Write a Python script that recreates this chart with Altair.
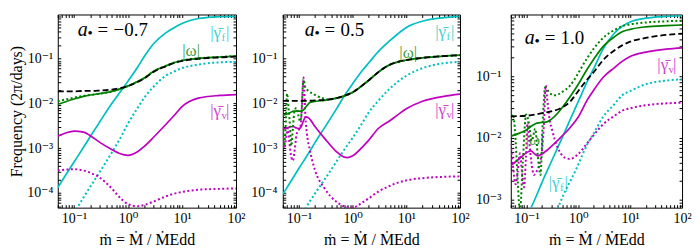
import math
import altair as alt
import pandas as pd

# ---------------- data: x = accretion rate, y = log10(frequency / (2pi/days)) ----------------
X_STD = [0.05, 0.07, 0.1, 0.15, 0.2, 0.3, 0.5, 0.7, 1, 1.5, 2, 3, 5, 7, 10, 20, 50, 100]

# panel 1  (a = -0.7)
P1_GF_SOLID = [-3.88, -3.60, -3.31, -2.98, -2.74, -2.41, -2.00, -1.76, -1.50, -1.19, -0.95, -0.66, -0.42, -0.31, -0.21, -0.10, -0.06, -0.05]
P1_GF_DOT_X = [0.11, 0.15, 0.2, 0.3, 0.5, 0.7, 1, 1.5, 2, 3, 5, 7, 10, 20, 50, 100]
P1_GF_DOT = [-4.37, -4.10, -3.86, -3.53, -3.10, -2.80, -2.45, -2.10, -1.87, -1.62, -1.38, -1.29, -1.21, -1.13, -1.08, -1.07]
P1_DASH = [-1.73, -1.73, -1.73, -1.72, -1.72, -1.71, -1.69, -1.66, -1.61, -1.52, -1.44, -1.29, -1.17, -1.10, -1.05, -1.00, -0.97, -0.95]
P1_W_SOLID = [-2.02, -1.96, -1.90, -1.84, -1.81, -1.78, -1.73, -1.68, -1.61, -1.51, -1.43, -1.28, -1.16, -1.09, -1.04, -0.99, -0.96, -0.94]
P1_W_DOT = [-1.95, -1.91, -1.87, -1.83, -1.81, -1.78, -1.73, -1.68, -1.61, -1.51, -1.43, -1.28, -1.16, -1.09, -1.04, -0.99, -0.96, -0.94]
P1_GV_SOLID = [-2.73, -2.66, -2.62, -2.64, -2.72, -2.87, -3.03, -3.12, -3.16, -3.08, -2.96, -2.75, -2.47, -2.28, -2.07, -1.88, -1.82, -1.80]
P1_GV_DOT = [-3.50, -3.48, -3.47, -3.50, -3.55, -3.66, -3.90, -4.10, -4.25, -4.30, -4.27, -4.19, -4.08, -4.02, -3.98, -3.93, -3.91, -3.90]

# panel 2  (a = 0.5)
P2_GF_SOLID = [-4.03, -3.75, -3.45, -3.12, -2.87, -2.54, -2.12, -1.83, -1.56, -1.27, -1.09, -0.84, -0.59, -0.44, -0.30, -0.16, -0.08, -0.05]
P2_GF_DOT_X = [0.13, 0.15, 0.2, 0.3, 0.5, 0.7, 1, 1.5, 2, 3, 5, 7, 10, 20, 50, 100]
P2_GF_DOT = [-4.36, -4.24, -4.01, -3.70, -3.30, -3.03, -2.77, -2.44, -2.20, -1.94, -1.66, -1.51, -1.38, -1.21, -1.10, -1.07]
P2_DASH = [-1.94, -1.94, -1.94, -1.94, -1.93, -1.92, -1.88, -1.83, -1.75, -1.60, -1.48, -1.30, -1.13, -1.07, -1.03, -0.98, -0.94, -0.92]
P2_W_SOLID_X = [0.05, 0.059, 0.07, 0.08, 0.09, 0.1, 0.112, 0.12, 0.13, 0.145, 0.16, 0.21, 0.3, 0.5, 0.7, 1, 1.5, 2, 3, 5, 7, 10, 20, 50, 100]
P2_W_SOLID = [-2.26, -2.24, -2.20, -2.17, -2.17, -2.17, -2.17, -2.15, -2.10, -2.03, -1.98, -1.95, -1.93, -1.88, -1.83, -1.75, -1.60, -1.48, -1.30, -1.13, -1.07, -1.03, -0.98, -0.94, -0.92]
P2_W_DOT_X = [0.05, 0.053, 0.056, 0.06, 0.064, 0.068, 0.072, 0.077, 0.083, 0.09, 0.097, 0.105, 0.112, 0.118, 0.122, 0.13, 0.15, 0.18, 0.22, 0.28, 0.35, 0.5, 0.7, 1, 1.5, 2, 3, 5, 7, 10, 20, 50, 100]
P2_W_DOT = [-2.40, -2.95, -2.60, -1.78, -2.10, -2.50, -2.95, -2.55, -2.15, -2.10, -2.25, -2.40, -2.20, -1.60, -1.45, -1.62, -1.72, -1.78, -1.84, -1.88, -1.91, -1.88, -1.83, -1.75, -1.60, -1.48, -1.30, -1.13, -1.07, -1.03, -0.98, -0.94, -0.92]
P2_GV_SOLID_X = [0.05, 0.059, 0.07, 0.08, 0.09, 0.1, 0.11, 0.12, 0.135, 0.15, 0.2, 0.3, 0.5, 0.7, 0.8, 1, 1.5, 2, 3, 5, 7, 10, 20, 50, 100]
P2_GV_SOLID = [-2.57, -2.55, -2.52, -2.52, -2.55, -2.56, -2.52, -2.40, -2.30, -2.32, -2.52, -2.78, -3.08, -3.20, -3.21, -3.17, -2.98, -2.82, -2.56, -2.38, -2.25, -2.12, -1.95, -1.84, -1.79]
P2_GV_DOT_X = [0.05, 0.054, 0.058, 0.062, 0.066, 0.072, 0.077, 0.083, 0.09, 0.097, 0.105, 0.112, 0.118, 0.122, 0.126, 0.132, 0.14, 0.16, 0.2, 0.3, 0.5, 0.7, 1, 1.5, 2, 3, 5, 7, 10, 20, 50, 100]
P2_GV_DOT = [-2.55, -3.00, -2.75, -2.55, -2.85, -3.20, -3.28, -3.05, -2.70, -2.60, -2.55, -2.20, -1.65, -1.42, -1.70, -2.30, -2.65, -3.05, -3.50, -3.90, -4.20, -4.30, -4.33, -4.22, -4.12, -3.97, -3.84, -3.77, -3.72, -3.67, -3.64, -3.63]

# panel 3  (a = 1.0)
P3_GF_SOLID_X = [0.12, 0.15, 0.2, 0.3, 0.5, 0.7, 1, 1.5, 2, 3, 5, 7, 10, 20, 50, 100]
P3_GF_SOLID = [-3.15, -2.97, -2.72, -2.39, -1.98, -1.70, -1.41, -1.08, -0.87, -0.56, -0.30, -0.19, -0.12, -0.06, -0.03, -0.02]
P3_GF_DOT_X = [0.40, 0.5, 0.7, 0.85, 1, 1.5, 2, 3, 5, 7, 10, 20, 50, 100]
P3_GF_DOT = [-3.15, -2.95, -2.70, -2.56, -2.43, -2.10, -1.92, -1.66, -1.45, -1.31, -1.24, -1.13, -1.07, -1.05]
P3_DASH_X = [0.05, 0.1, 0.2, 0.3, 0.4, 0.5, 0.7, 0.85, 1, 1.5, 2, 3, 5, 7, 10, 20, 50, 100]
P3_DASH = [-1.65, -1.64, -1.60, -1.57, -1.54, -1.50, -1.41, -1.32, -1.24, -1.05, -0.93, -0.74, -0.58, -0.50, -0.44, -0.38, -0.33, -0.31]
P3_W_SOLID_X = [0.05, 0.07, 0.1, 0.13, 0.16, 0.2, 0.25, 0.3, 0.4, 0.5, 0.7, 1, 1.5, 2, 3, 5, 7, 10, 20, 50, 100]
P3_W_SOLID = [-1.97, -1.93, -1.87, -1.80, -1.76, -1.75, -1.74, -1.70, -1.60, -1.50, -1.33, -1.13, -0.88, -0.72, -0.52, -0.36, -0.28, -0.24, -0.20, -0.18, -0.17]
P3_W_DOT_X = [0.05, 0.055, 0.061, 0.068, 0.075, 0.085, 0.099, 0.111, 0.127, 0.148, 0.166, 0.187, 0.207, 0.23, 0.279, 0.348, 0.4, 0.5, 0.7, 0.85, 1, 1.5, 2, 3, 5, 7, 10, 20, 50, 100]
P3_W_DOT = [-1.80, -1.62, -1.95, -2.70, -3.20, -2.40, -1.62, -1.75, -2.05, -1.85, -2.30, -2.60, -1.70, -1.18, -1.27, -1.31, -1.30, -1.25, -1.15, -1.05, -0.95, -0.70, -0.55, -0.38, -0.25, -0.19, -0.16, -0.13, -0.11, -0.10]
P3_GV_SOLID_X = [0.05, 0.07, 0.09, 0.11, 0.122, 0.14, 0.166, 0.19, 0.25, 0.3, 0.4, 0.5, 0.7, 1, 1.5, 2, 3, 5, 7, 10, 20, 50, 100]
P3_GV_SOLID = [-2.45, -2.35, -2.27, -2.22, -2.21, -2.25, -2.29, -2.27, -2.20, -2.14, -2.04, -1.96, -1.83, -1.66, -1.38, -1.22, -1.02, -0.86, -0.76, -0.68, -0.61, -0.56, -0.54]
P3_GV_DOT_X = [0.05, 0.055, 0.062, 0.068, 0.075, 0.082, 0.09, 0.098, 0.105, 0.112, 0.125, 0.14, 0.155, 0.175, 0.2, 0.22, 0.235, 0.25, 0.28, 0.32, 0.35, 0.45, 0.55, 0.7, 1, 1.5, 2, 3, 5, 7, 10, 20, 50, 100]
P3_GV_DOT = [-2.10, -2.45, -2.75, -2.55, -2.25, -2.55, -2.80, -2.30, -1.75, -2.00, -2.40, -2.60, -2.55, -2.45, -2.20, -1.70, -1.15, -1.35, -1.70, -1.90, -2.02, -2.24, -2.32, -2.34, -2.26, -2.08, -1.95, -1.78, -1.64, -1.56, -1.52, -1.47, -1.44, -1.43]

SPIN_VALUES = ["−0.7", "0.5", "1.0"]
X_TITLE = "ṁ = Ṁ / ṀEdd"
Y_TITLE = "Frequency (2π/days)"
LBL_GF = "|γ̄"
LBL_W = "|ω|"

CYAN, MAGENTA, GREEN, BLACK = "#00bfbf", "#bf00bf", "#008000", "#000000"
SERIF = "Liberation Serif, DejaVu Serif, serif"

# tick positions (major decades plus minor 2..9 marks)
X_TICKS = [m * 10.0 ** d for d in range(-2, 2) for m in range(1, 10)] + [100]
X_TICKS = [v for v in X_TICKS if 0.05 <= v <= 100]
Y_TICKS = [d + math.log10(m) for d in range(-5, 0) for m in range(1, 10)]

X_EXPR = ("datum.value == 0.1 ? '10⁻¹' : datum.value == 1 ? '10⁰' : "
          "datum.value == 10 ? '10¹' : datum.value == 100 ? '10²' : ''")
Y_EXPR = ("datum.value == -4 ? '10⁻⁴' : datum.value == -3 ? '10⁻³' : "
          "datum.value == -2 ? '10⁻²' : datum.value == -1 ? '10⁻¹' : ''")


def panel(series, ydom, width, label_pad, show_ytitle, texts):
    xs_ = alt.Scale(type="log", domain=[0.05, 100], nice=False)
    ys_ = alt.Scale(domain=ydom, nice=False, zero=False)
    yt = [v for v in Y_TICKS if ydom[0] <= v <= ydom[1]]
    x_main = alt.X("x:Q", scale=xs_, axis=alt.Axis(
        values=X_TICKS, labelExpr=X_EXPR, title=X_TITLE, labelFlush=False, labelOverlap=False,
        offset=-3, tickSize=3, labelPadding=4, titlePadding=6))
    yax = dict(values=yt, labelExpr=Y_EXPR, offset=-3, tickSize=3, labelPadding=label_pad,
               labelOverlap=False, titlePadding=2)
    yax["title"] = Y_TITLE if show_ytitle else None
    y_main = alt.Y("y:Q", scale=ys_, axis=alt.Axis(**yax))
    x_top = alt.X("x:Q", scale=xs_, axis=alt.Axis(
        orient="top", values=X_TICKS, labels=False, title=None, offset=-3, tickSize=3))
    y_right = alt.Y("y:Q", scale=ys_, axis=alt.Axis(
        orient="right", values=yt, labels=False, title=None, offset=-3, tickSize=3))
    x_none = alt.X("x:Q", scale=xs_, axis=None)
    y_none = alt.Y("y:Q", scale=ys_, axis=None)

    layers = []
    n = len(series)
    for i, (xs, ys, color, style) in enumerate(series):
        df = pd.DataFrame({"x": xs, "y": ys})
        kw = dict(color=color, interpolate="monotone", clip=True)
        if style == "solid":
            kw["strokeWidth"] = 1.7
        elif style == "dot":
            kw["strokeWidth"] = 2
            kw["strokeDash"] = [2, 2.4]
        else:
            kw["strokeWidth"] = 1.8
            kw["strokeDash"] = [6, 3]
        if i == 0:
            enc = dict(x=x_main, y=y_main)
        elif i == n - 1:
            enc = dict(x=x_top, y=y_right)
        else:
            enc = dict(x=x_none, y=y_none)
        layers.append(alt.Chart(df).mark_line(**kw).encode(**enc))
    for (txt, px, py, color, size, italic, align, baseline, opacity) in texts:
        mk = dict(color=color, fontSize=size, align=align, baseline=baseline, font=SERIF, opacity=opacity)
        if italic:
            mk["fontStyle"] = "italic"
        layers.append(alt.Chart(pd.DataFrame({"t": [txt]})).mark_text(**mk).encode(
            x=alt.value(px), y=alt.value(py), text="t:N"))
    return alt.layer(*layers).resolve_axis(x="independent", y="independent").properties(
        width=width, height=194)


def spin_texts(val, x0, base):
    return [
        ("a", x0, base, BLACK, 20, True, "left", "alphabetic", 1),
        ("•", x0 + 12.5, base + 2, BLACK, 15, False, "center", "alphabetic", 1),
        ("=", x0 + 20, base, BLACK, 19, False, "left", "alphabetic", 1),
        (val, x0 + 36, base, BLACK, 19, False, "left", "alphabetic", 1),
    ]


def gamma_label(sub, xr, base, color):
    return [
        (LBL_GF, xr, base, color, 17, False, "right", "alphabetic", 0.75),
        (sub, xr + 0.5, base + 3, color, 11, False, "left", "alphabetic", 0.75),
        ("|", xr + 5, base, color, 17, False, "left", "alphabetic", 0.75),
    ]


p1 = panel(
    [(X_STD, P1_GF_SOLID, CYAN, "solid"), (P1_GF_DOT_X, P1_GF_DOT, CYAN, "dot"),
     (X_STD, P1_GV_SOLID, MAGENTA, "solid"), (X_STD, P1_GV_DOT, MAGENTA, "dot"),
     (X_STD, P1_W_DOT, GREEN, "dot"), (X_STD, P1_W_SOLID, GREEN, "solid"),
     (X_STD, P1_DASH, BLACK, "dash")],
    [-4.33, -0.01], 179, 5, True,
    spin_texts(SPIN_VALUES[0], 20, 22)
    + gamma_label("f", 164, 24, CYAN) + gamma_label("v", 164, 102, MAGENTA)
    + [(LBL_W, 125, 42, GREEN, 17, False, "left", "alphabetic", 0.75)])

p2 = panel(
    [(X_STD, P2_GF_SOLID, CYAN, "solid"), (P2_GF_DOT_X, P2_GF_DOT, CYAN, "dot"),
     (P2_GV_SOLID_X, P2_GV_SOLID, MAGENTA, "solid"), (P2_GV_DOT_X, P2_GV_DOT, MAGENTA, "dot"),
     (P2_W_DOT_X, P2_W_DOT, GREEN, "dot"), (P2_W_SOLID_X, P2_W_SOLID, GREEN, "solid"),
     (X_STD, P2_DASH, BLACK, "dash")],
    [-4.33, -0.01], 178, 6, False,
    spin_texts(SPIN_VALUES[1], 22, 22)
    + gamma_label("f", 164, 23, CYAN) + gamma_label("v", 164, 101, MAGENTA)
    + [(LBL_W, 117, 44, GREEN, 17, False, "left", "alphabetic", 0.75)])

p3 = panel(
    [(P3_GF_SOLID_X, P3_GF_SOLID, CYAN, "solid"), (P3_GF_DOT_X, P3_GF_DOT, CYAN, "dot"),
     (P3_GV_SOLID_X, P3_GV_SOLID, MAGENTA, "solid"), (P3_GV_DOT_X, P3_GV_DOT, MAGENTA, "dot"),
     (P3_W_DOT_X, P3_W_DOT, GREEN, "dot"), (P3_W_SOLID_X, P3_W_SOLID, GREEN, "solid"),
     (P3_DASH_X, P3_DASH, BLACK, "dash")],
    [-3.13, 0.0], 172, 10, False,
    spin_texts(SPIN_VALUES[2], 14, 30)
    + gamma_label("v", 158, 56, MAGENTA) + gamma_label("f", 49, 174, CYAN)
    + [(LBL_W, 15, 131, GREEN, 17, False, "left", "alphabetic", 0.75)])

chart = alt.hconcat(p1, p2, p3, spacing=4).properties(padding=0).configure_view(
    stroke=BLACK, strokeWidth=1
).configure_axis(
    domain=False, tickColor=BLACK, labelColor=BLACK, titleColor=BLACK,
    labelFont=SERIF, titleFont=SERIF, labelFontSize=14, titleFontSize=16, titleFontWeight="normal",
    grid=False
)

chart.save("out.html", embed_options={"renderer": "svg", "actions": False})
